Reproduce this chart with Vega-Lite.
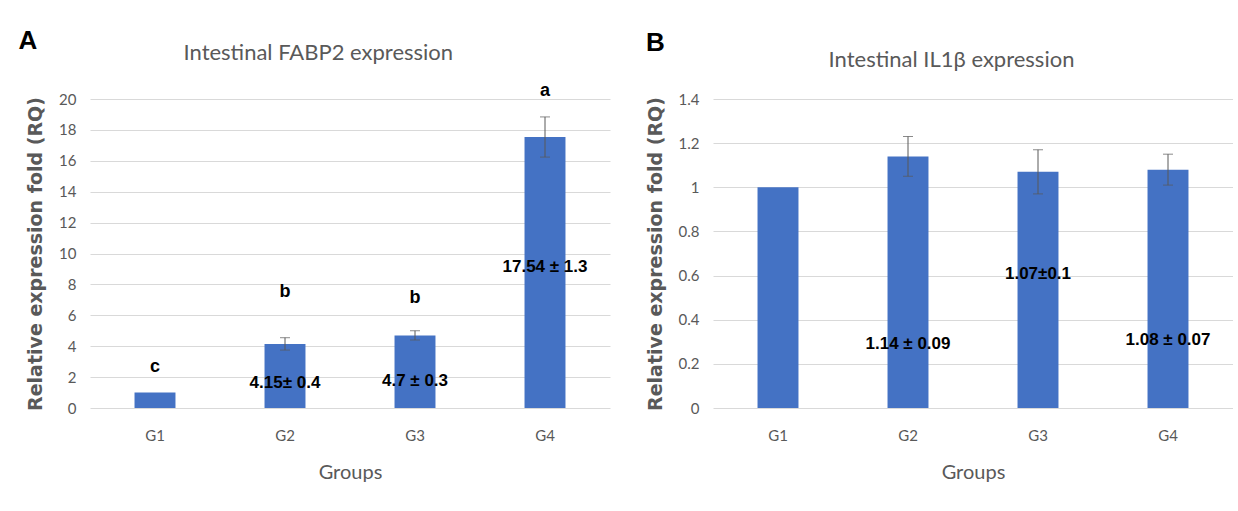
{
  "$schema": "https://vega.github.io/schema/vega-lite/v6.json",
  "background": "white",
  "padding": {"left": 18, "top": 28, "right": 0, "bottom": 0},
  "spacing": 36,
  "datasets": {
    "fabp2": [
      {"group": "G1", "mean": 1, "lo": null, "hi": null, "letter": "c", "letter_y": 2.65, "label": "", "label_y": null},
      {"group": "G2", "mean": 4.15, "lo": 3.75, "hi": 4.55, "letter": "b", "letter_y": 7.5, "label": "4.15± 0.4", "label_y": 1.6},
      {"group": "G3", "mean": 4.7, "lo": 4.4, "hi": 5.0, "letter": "b", "letter_y": 7.1, "label": "4.7 ± 0.3", "label_y": 1.75},
      {"group": "G4", "mean": 17.54, "lo": 16.24, "hi": 18.84, "letter": "a", "letter_y": 20.5, "label": "17.54 ± 1.3", "label_y": 9.1}
    ],
    "il1b": [
      {"group": "G1", "mean": 1, "lo": null, "hi": null, "label": "", "label_y": null},
      {"group": "G2", "mean": 1.14, "lo": 1.05, "hi": 1.23, "label": "1.14 ± 0.09", "label_y": 0.29},
      {"group": "G3", "mean": 1.07, "lo": 0.97, "hi": 1.17, "label": "1.07±0.1", "label_y": 0.607},
      {"group": "G4", "mean": 1.08, "lo": 1.01, "hi": 1.15, "label": "1.08 ± 0.07", "label_y": 0.308}
    ]
  },
  "hconcat": [
    {
      "title": {"text": "A", "anchor": "start", "fontSize": 26, "fontWeight": "bold", "color": "black", "font": "Liberation Sans", "offset": -12, "dx": -8},
      "vconcat": [
        {
          "width": 520,
          "height": 309,
          "title": {"text": "Intestinal FABP2 expression", "offset": 17, "frame": "bounds"},
          "data": {"name": "fabp2"},
          "encoding": {
            "x": {"field": "group", "type": "nominal", "sort": null, "scale": {"paddingInner": 0.685, "paddingOuter": 0.3425}, "axis": {"title": "Groups", "labelAngle": 0}}
          },
          "layer": [
            {"mark": {"type": "bar", "color": "#4472C4"},
             "encoding": {"y": {"field": "mean", "type": "quantitative", "title": "Relative expression fold (RQ)", "scale": {"domain": [0, 20], "nice": false}, "axis": {"values": [0, 2, 4, 6, 8, 10, 12, 14, 16, 18, 20], "labelOverlap": false}}}},
            {"mark": {"type": "rule", "color": "#595959", "strokeWidth": 1},
             "encoding": {"y": {"field": "lo", "type": "quantitative", "title": "Relative expression fold (RQ)", "axis": {"values": [0, 2, 4, 6, 8, 10, 12, 14, 16, 18, 20], "labelOverlap": false}}, "y2": {"field": "hi"}}},
            {"mark": {"type": "tick", "color": "#595959", "thickness": 1, "size": 10},
             "encoding": {"y": {"field": "lo", "type": "quantitative", "title": "Relative expression fold (RQ)", "axis": {"values": [0, 2, 4, 6, 8, 10, 12, 14, 16, 18, 20], "labelOverlap": false}}}},
            {"mark": {"type": "tick", "color": "#595959", "thickness": 1, "size": 10},
             "encoding": {"y": {"field": "hi", "type": "quantitative", "title": "Relative expression fold (RQ)", "axis": {"values": [0, 2, 4, 6, 8, 10, 12, 14, 16, 18, 20], "labelOverlap": false}}}},
            {"mark": {"type": "text", "font": "Liberation Sans", "fontWeight": "bold", "fontSize": 18, "color": "black"},
             "encoding": {"y": {"field": "letter_y", "type": "quantitative", "title": "Relative expression fold (RQ)", "axis": {"values": [0, 2, 4, 6, 8, 10, 12, 14, 16, 18, 20], "labelOverlap": false}}, "text": {"field": "letter"}}},
            {"mark": {"type": "text", "font": "Liberation Sans", "fontWeight": "bold", "fontSize": 17, "color": "black"},
             "encoding": {"y": {"field": "label_y", "type": "quantitative", "title": "Relative expression fold (RQ)", "axis": {"values": [0, 2, 4, 6, 8, 10, 12, 14, 16, 18, 20], "labelOverlap": false}}, "text": {"field": "label"}}}
          ]
        }
      ]
    },
    {
      "title": {"text": "B", "anchor": "start", "fontSize": 26, "fontWeight": "bold", "color": "black", "font": "Liberation Sans", "offset": -7, "dx": 0},
      "vconcat": [
        {
          "width": 520,
          "height": 309,
          "title": {"text": "Intestinal IL1β expression", "offset": 20, "frame": "bounds", "dx": 12},
          "data": {"name": "il1b"},
          "encoding": {
            "x": {"field": "group", "type": "nominal", "sort": null, "scale": {"paddingInner": 0.685, "paddingOuter": 0.3425}, "axis": {"title": "Groups", "labelAngle": 0}}
          },
          "layer": [
            {"mark": {"type": "bar", "color": "#4472C4"},
             "encoding": {"y": {"field": "mean", "type": "quantitative", "title": "Relative expression fold (RQ)", "scale": {"domain": [0, 1.4], "nice": false}, "axis": {"values": [0, 0.2, 0.4, 0.6, 0.8, 1, 1.2, 1.4], "format": "~g", "labelOverlap": false}}}},
            {"mark": {"type": "rule", "color": "#595959", "strokeWidth": 1},
             "encoding": {"y": {"field": "lo", "type": "quantitative", "title": "Relative expression fold (RQ)", "axis": {"values": [0, 0.2, 0.4, 0.6, 0.8, 1, 1.2, 1.4], "format": "~g", "labelOverlap": false}}, "y2": {"field": "hi"}}},
            {"mark": {"type": "tick", "color": "#595959", "thickness": 1, "size": 10},
             "encoding": {"y": {"field": "lo", "type": "quantitative", "title": "Relative expression fold (RQ)", "axis": {"values": [0, 0.2, 0.4, 0.6, 0.8, 1, 1.2, 1.4], "format": "~g", "labelOverlap": false}}}},
            {"mark": {"type": "tick", "color": "#595959", "thickness": 1, "size": 10},
             "encoding": {"y": {"field": "hi", "type": "quantitative", "title": "Relative expression fold (RQ)", "axis": {"values": [0, 0.2, 0.4, 0.6, 0.8, 1, 1.2, 1.4], "format": "~g", "labelOverlap": false}}}},
            {"mark": {"type": "text", "font": "Liberation Sans", "fontWeight": "bold", "fontSize": 17, "color": "black"},
             "encoding": {"y": {"field": "label_y", "type": "quantitative", "title": "Relative expression fold (RQ)", "axis": {"values": [0, 0.2, 0.4, 0.6, 0.8, 1, 1.2, 1.4], "format": "~g", "labelOverlap": false}}, "text": {"field": "label"}}}
          ]
        }
      ]
    }
  ],
  "config": {
    "view": {"stroke": null},
    "axis": {
      "labelFont": "Lato", "labelFontSize": 15, "labelColor": "#595959",
      "titleColor": "#595959", "domain": false, "ticks": false,
      "gridColor": "#d9d9d9", "gridWidth": 1, "labelOverlap": false
    },
    "axisX": {"grid": false, "labelPadding": 20, "titleFont": "Lato", "titleFontSize": 20, "titleFontWeight": "normal", "titlePadding": 19},
    "axisY": {"labelPadding": 14, "titleFont": "DejaVu Sans", "titleFontSize": 19, "titleFontWeight": "bold", "titlePadding": 13},
    "title": {"font": "Lato", "fontSize": 22, "fontWeight": "normal", "color": "#595959"}
  }
}
